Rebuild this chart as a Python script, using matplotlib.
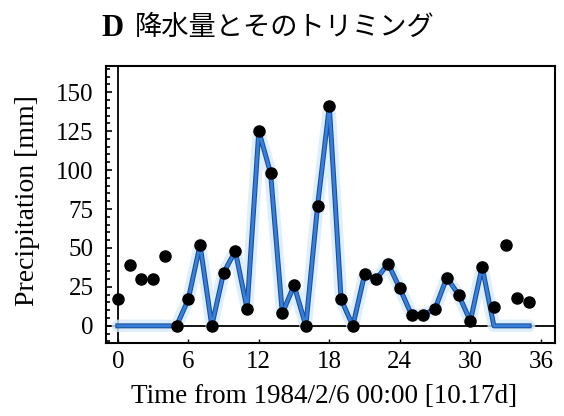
import matplotlib
matplotlib.use("Agg")
import matplotlib.pyplot as plt
from matplotlib.ticker import MultipleLocator
import numpy as np

# data
time_idx = list(range(36))
precip = [17, 39, 30, 30, 45, 0, 17, 52, 0, 34, 48, 11, 125, 98, 8, 26, 0, 77,
          141, 17, 0, 33, 30, 40, 24, 7, 7, 11, 31, 20, 3, 38, 12, 52, 18, 15]
trim_start = 5
trim_end = 31
trimmed = [p if trim_start <= i <= trim_end else 0 for i, p in zip(time_idx, precip)]

title_letter = "D"
title_text = "降水量とそのトリミング"
xlabel = "Time from 1984/2/6 00:00 [10.17d]"
ylabel = "Precipitation [mm]"
xticks = [0, 6, 12, 18, 24, 30, 36]
yticks = [0, 25, 50, 75, 100, 125, 150]

serif = ["Liberation Serif", "Noto Sans CJK JP"]

fig = plt.figure(figsize=(5.64, 4.16), dpi=100)
ax = fig.add_axes([0.188, 0.1755, 0.796, 0.6655])

ax.axhline(0, color="black", lw=1.3, zorder=1)
ax.axvline(0, color="black", lw=1.3, zorder=1)

ax.plot(time_idx, trimmed, color="#d6ebfb", lw=9, alpha=0.8, solid_capstyle="round", zorder=2)
ax.plot(time_idx, trimmed, color="#1f4f9a", lw=3.6, zorder=3)
ax.plot(time_idx, trimmed, color="#3580dc", lw=2.0, zorder=4)
ax.plot(time_idx, precip, "o", color="black", ms=8, zorder=5, ls="none")

ax.set_xlim(-1.0, 37.2)
ax.set_ylim(-11, 166.7)
ax.set_xticks(xticks)
ax.set_yticks(yticks)
ax.yaxis.set_minor_locator(MultipleLocator(5))
ax.tick_params(axis="y", which="both", direction="in", left=True, right=False, length=3, width=1.2, pad=9)
ax.tick_params(axis="y", which="major", length=4)
ax.tick_params(axis="x", which="major", direction="in", bottom=True, top=False, length=3, width=1, pad=6)

for s in ax.spines.values():
    s.set_linewidth(1.5)

for lab in ax.get_xticklabels() + ax.get_yticklabels():
    lab.set_fontfamily(serif)
    lab.set_fontsize(18)

ax.set_xlabel(xlabel, fontfamily=serif, fontsize=19.5)
ax.set_ylabel(ylabel, fontfamily=serif, fontsize=20)
ax.xaxis.set_label_coords(0.486, -0.195)
ax.yaxis.set_label_coords(-0.174, 0.516)
ax.xaxis.label.set_va("center")
ax.yaxis.label.set_va("center")

fig.text(101 / 564, 1 - 28 / 416, title_letter, ha="left", va="center",
         fontfamily=serif, fontsize=22, fontweight="bold")
fig.text(135 / 564, 1 - 27 / 416, title_text, ha="left", va="center",
         fontfamily=["Noto Sans CJK JP"], fontsize=19.6)

fig.savefig("out.png", dpi=100)
